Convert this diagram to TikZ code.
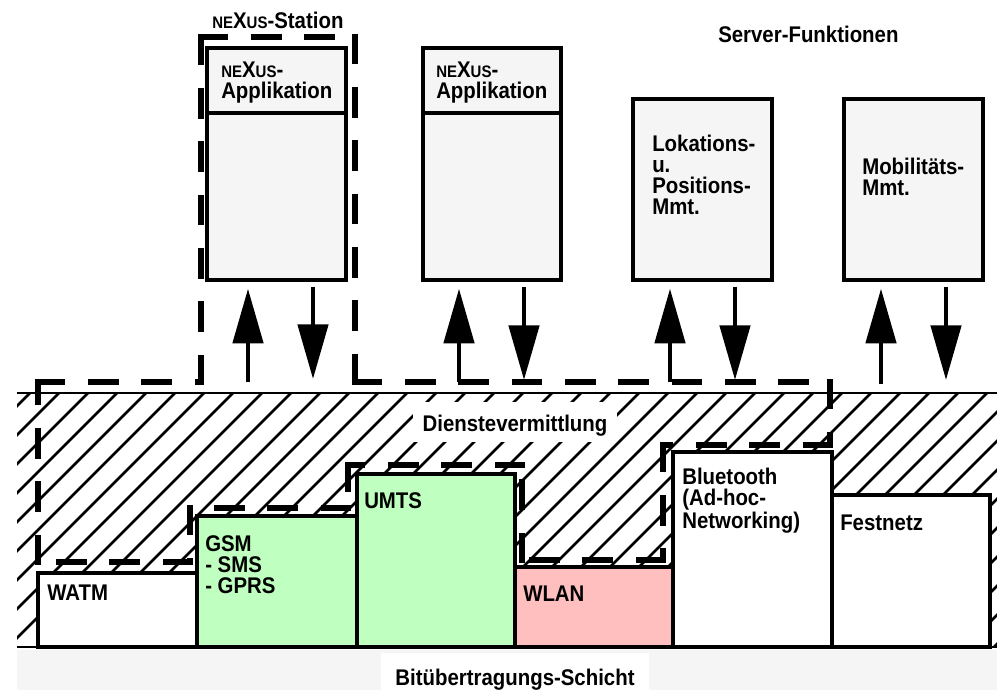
\documentclass[tikz,border=0pt]{standalone}
\usepackage{fontspec}
\setmainfont{Liberation Sans}[FakeStretch=0.9]
\usetikzlibrary{arrows.meta,fit}
\definecolor{boxgray}{HTML}{F5F5F5}
\definecolor{netgreen}{HTML}{BFFFBF}
\definecolor{netpink}{HTML}{FFBFBF}
\newcommand{\nxsc}[1]{{\fontsize{12.5}{12}\selectfont #1}}
\newcommand{\nexusname}{\nxsc{NE}X\nxsc{US}}
\tikzset{
  every node/.style={font=\fontsize{17}{15.75}\selectfont\bfseries},
  hbox/.style={draw, line width=2.5pt, inner sep=0pt},
  lbl/.style={anchor=base west, align=left, inner sep=0pt},
  arr/.style={line width=3.5pt, -{Triangle[width=22.5pt,length=41pt]}},
  stationline/.style={line width=5pt, dash pattern=on 18pt off 22pt, line cap=rect},
  hatchline/.style={line width=2pt},
  layerline/.style={line width=1.8pt},
}
\begin{document}
\begin{tikzpicture}[x=0.75pt,y=-0.75pt]
\useasboundingbox (0,0) rectangle (997,690);

% bottom physical layer
\fill[boxgray] (17,650) rectangle (997,690);
\node[fill=white, inner xsep=11pt, inner ysep=4pt, text height=20pt, text depth=2pt, anchor=base] (phys) at (515,685) {Bitübertragungs-Schicht};

% hatched service layer
\node[fit={(17,393) (997,647)}, inner sep=0pt] (layer) {};
\begin{scope}
  \clip (17,393) rectangle (997,647);
  \foreach \k in {-10,...,36} {
    \draw[hatchline] (\k*29+8,647) -- ++(254,-254);
  }
\end{scope}
\draw[layerline] (layer.north west) -- (layer.north east);
\draw[layerline] (layer.south west) -- (layer.south east);
\node[fill=white, inner xsep=7.5pt, inner ysep=4pt, text height=17.75pt, text depth=4.25pt, anchor=base] (dv) at (515,431) {Dienstevermittlung};

% network boxes
\node[hbox, fill=white,    fit={(38,573) (197,647)}] (watm) {};
\node[hbox, fill=netgreen, fit={(197,516) (357,647)}] (gsm) {};
\node[hbox, fill=netgreen, fit={(357,474) (515,647)}] (umts) {};
\node[hbox, fill=netpink,  fit={(515,567) (673,647)}] (wlan) {};
\node[hbox, fill=white,    fit={(673,452) (832,647)}] (bt) {};
\node[hbox, fill=white,    fit={(832,495) (990,647)}] (fest) {};

% (multi-line labels are placed by the baseline of their last line)
\node[lbl] (twatm) at (47,600) {WATM};
\node[lbl] (tgsm) at (205,593) {GSM\\- SMS\\- GPRS};
\node[lbl] (tumts) at (364,508) {UMTS};
\node[lbl] (twlan) at (523,601) {WLAN};
\node[lbl] (tbt) at (682,528) {Bluetooth\\(Ad-hoc-\\Networking)};
\node[lbl] (tfest) at (840,530) {Festnetz};

% top boxes
\node[hbox, fill=boxgray, fit={(207,48) (346,280)}] (app1) {};
\node[hbox, fill=boxgray, fit={(423,48) (561,280)}] (app2) {};
\node[hbox, fill=boxgray, fit={(633,99) (772,280)}] (lok) {};
\node[hbox, fill=boxgray, fit={(844,99) (983,280)}] (mob) {};
\draw[line width=2.5pt] (207,113) -- (346,113);
\draw[line width=2.5pt] (423,113) -- (561,113);

\node[lbl] (tapp1) at (221,98) {\nexusname-\\Applikation};
\node[lbl] (tapp2) at (436,98) {\nexusname-\\Applikation};
\node[lbl] (tlok) at (652,214) {Lokations-\\u.\\Positions-\\Mmt.};
\node[lbl] (tmob) at (862,195) {Mobilitäts-\\Mmt.};

\node[lbl] (tstation) at (212,28) {\nexusname-Station};
\node[lbl] (tserver) at (718,42) {Server-Funktionen};

% NEXUS station outline
\draw[stationline]
  (38,382) -- (201,382) (201,382) -- (201,37) (201,37) -- (355,37)
  (355,37) -- (355,382) (355,382) -- (830,382) (830,382) -- (830,445)
  (830,445) -- (663,445) (663,445) -- (663,560) (663,560) -- (522,560)
  (522,560) -- (522,465) (522,465) -- (348,465) (348,465) -- (348,508)
  (348,508) -- (190,508) (190,508) -- (190,562) (190,562) -- (38,562)
  (38,562) -- (38,382);

% arrows
\coordinate (u1) at (248,382); \coordinate (d1) at (313,379);
\coordinate (u2) at (459,382); \coordinate (d2) at (524,380);
\coordinate (u3) at (670,382); \coordinate (d3) at (735,380);
\coordinate (u4) at (881,384); \coordinate (d4) at (946,380);
\foreach \b/\u/\d in {app1/u1/d1, app2/u2/d2, lok/u3/d3, mob/u4/d4} {
  \draw[arr, shorten >=5.25pt] (\u) -- (\u |- \b.south);
  \draw[arr, shorten <=3.75pt] (\d |- \b.south) -- (\d);
}
\end{tikzpicture}
\end{document}
